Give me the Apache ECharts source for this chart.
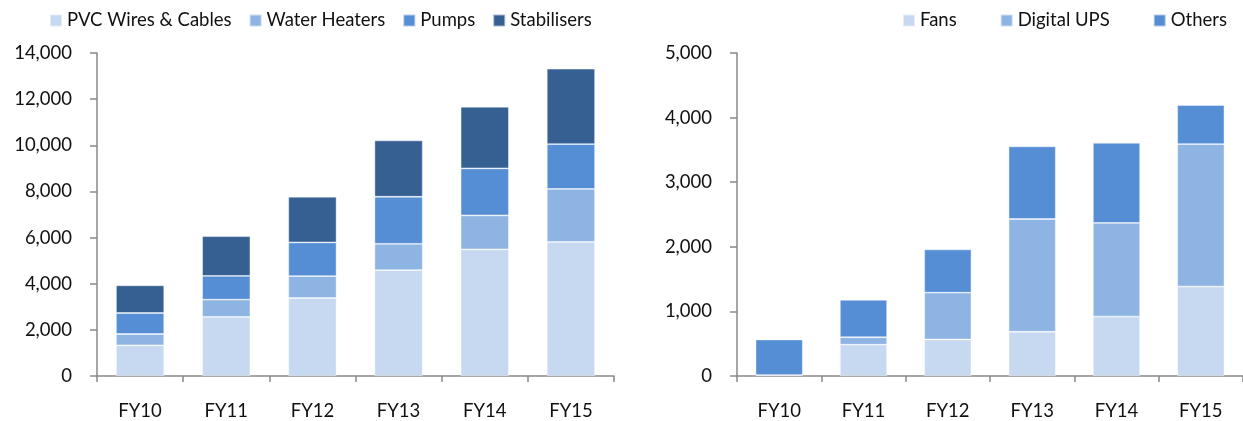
<!DOCTYPE html>
<html>
<head>
<meta charset="utf-8">
<script src="https://cdn.jsdelivr.net/npm/echarts@6/dist/echarts.min.js"></script>
<style>
  html, body { margin: 0; padding: 0; background: #ffffff; }
  #chart { width: 1243px; height: 421px; }
</style>
</head>
<body>
<div id="chart"></div>
<script>
// Fiscal years shared by both panels
const years = ['FY10', 'FY11', 'FY12', 'FY13', 'FY14', 'FY15'];

// Left panel: electrical products
const pvcWires = [1330, 2560, 3380, 4590, 5490, 5810];
const waterHeaters = [490, 750, 950, 1140, 1470, 2300];
const pumps = [910, 1030, 1460, 2040, 2040, 1940];
const stabilisers = [1200, 1720, 1980, 2440, 2670, 3270];

// Right panel: consumer durables
const fans = [15, 485, 565, 685, 920, 1385];
const digitalUps = [0, 115, 725, 1745, 1450, 2205];
const others = [550, 580, 670, 1125, 1240, 605];

const leftNames = ['PVC Wires & Cables', 'Water Heaters', 'Pumps', 'Stabilisers'];
const rightNames = ['Fans', 'Digital UPS', 'Others'];

const C_LIGHT = '#C6D9F1';
const C_MID = '#8EB4E3';
const C_BLUE = '#558ED5';
const C_DARK = '#366092';

const FONT = 'Lato, "Open Sans", sans-serif';
const FONT_SIZE = 18.5;
const AXIS_GREY = '#898989';

function fmt(v) { return v.toLocaleString('en-US'); }

function xAxisFor(gridIndex) {
  return {
    type: 'category', gridIndex: gridIndex, data: years,
    axisLine: { lineStyle: { color: AXIS_GREY, width: 1.5 } },
    axisTick: { show: true, length: 6, alignWithLabel: false, lineStyle: { color: AXIS_GREY, width: 1.5 } },
    axisLabel: { color: '#111', fontFamily: FONT, fontSize: FONT_SIZE, margin: 26 }
  };
}

function yAxisFor(gridIndex, max, interval) {
  return {
    type: 'value', gridIndex: gridIndex, min: 0, max: max, interval: interval,
    axisLine: { show: true, lineStyle: { color: AXIS_GREY, width: 1.5 } },
    axisTick: { show: true, length: 7, lineStyle: { color: AXIS_GREY, width: 1.5 } },
    splitLine: { show: false },
    axisLabel: { color: '#111', fontFamily: FONT, fontSize: FONT_SIZE, margin: 25, formatter: fmt }
  };
}

function barSeries(name, data, color, axisIndex, stack) {
  return {
    name: name, type: 'bar', stack: stack, data: data,
    xAxisIndex: axisIndex, yAxisIndex: axisIndex,
    barWidth: '56%',
    itemStyle: { color: color, borderColor: 'rgba(255,255,255,0.55)', borderWidth: 0.8 },
    emphasis: { disabled: true }
  };
}

const legendCommon = {
  icon: 'rect', itemWidth: 12, itemHeight: 12,
  textStyle: { color: '#111', fontFamily: FONT, fontSize: FONT_SIZE },
  selectedMode: false
};

const chart = echarts.init(document.getElementById('chart'), null, { renderer: 'canvas' });
chart.setOption({
  animation: false,
  backgroundColor: '#ffffff',
  legend: [
    Object.assign({}, legendCommon, { data: leftNames, left: 44, top: 6, itemGap: 17 }),
    Object.assign({}, legendCommon, { data: rightNames, left: 897, top: 6, itemGap: 43 })
  ],
  grid: [
    { left: 97, top: 53, width: 517, height: 323, containLabel: false },
    { left: 737, top: 53, width: 508, height: 324, containLabel: false }
  ],
  xAxis: [xAxisFor(0), xAxisFor(1)],
  yAxis: [yAxisFor(0, 14000, 2000), yAxisFor(1, 5000, 1000)],
  series: [
    barSeries(leftNames[0], pvcWires, C_LIGHT, 0, 'left'),
    barSeries(leftNames[1], waterHeaters, C_MID, 0, 'left'),
    barSeries(leftNames[2], pumps, C_BLUE, 0, 'left'),
    barSeries(leftNames[3], stabilisers, C_DARK, 0, 'left'),
    barSeries(rightNames[0], fans, C_LIGHT, 1, 'right'),
    barSeries(rightNames[1], digitalUps, C_MID, 1, 'right'),
    barSeries(rightNames[2], others, C_BLUE, 1, 'right')
  ]
});
</script>
</body>
</html>
